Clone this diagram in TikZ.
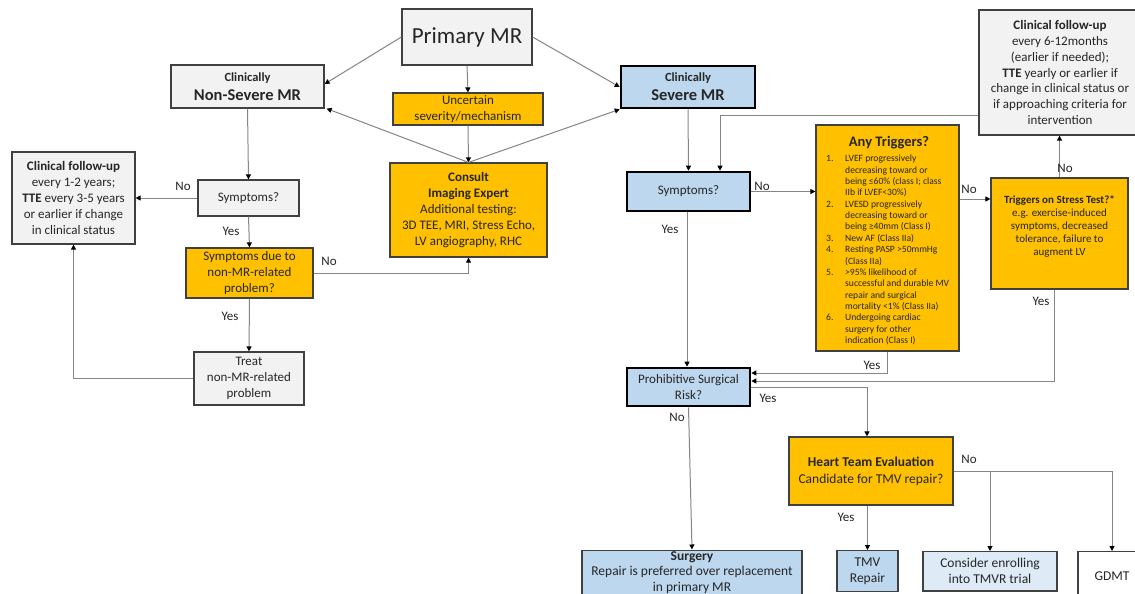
\documentclass[tikz,border=0pt]{standalone}
\usepackage{fontspec}
\setmainfont{Carlito}
\usetikzlibrary{arrows.meta,calc}
\definecolor{boxgray}{HTML}{F2F2F2}
\definecolor{orng}{HTML}{FFC000}
\definecolor{bluebox}{HTML}{BDD7EE}
\definecolor{lightblue}{HTML}{DEEBF7}
\definecolor{edgec}{HTML}{404040}
\definecolor{connc}{HTML}{858585}
\definecolor{txt}{HTML}{262626}
\begin{document}
\begin{tikzpicture}[x=1pt,y=-1pt,
 box/.style={draw=edgec,line width=1.2pt,inner sep=1pt,align=center,text=txt,font=\fontsize{13}{16}\selectfont},
 graybox/.style={box,fill=boxgray},
 orbox/.style={box,fill=orng},
 bluethick/.style={box,fill=bluebox,draw=black,line width=2.6pt},
 conn/.style={draw=connc,line width=1pt,-{Triangle[length=5pt,width=5pt,color=black]}},
 lbl/.style={text=txt,font=\fontsize{13}{16}\selectfont,inner sep=0pt},
 txtnode/.style={text=txt,align=center,inner sep=0pt}]
\useasboundingbox (0,0) rectangle (1135,594);
\fill[white] (0,0) rectangle (1135,594);

% ---- nodes ----
\node[graybox,minimum width=130,minimum height=56,font=\fontsize{23}{27}\selectfont] (pmr) at (467,37) {Primary MR};
\node[graybox,minimum width=153,minimum height=43,font=\bfseries\fontsize{16.5}{19}\selectfont] (ns) at (247.5,86.5) {{\fontsize{12.5}{14}\selectfont Clinically}\\Non-Severe MR};
\node[orbox,minimum width=150,minimum height=32] (unc) at (468,109) {Uncertain\\severity/mechanism};
\node[orbox,minimum width=157,minimum height=94] (cons) at (468.5,210) {\textbf{Consult}\\\textbf{Imaging Expert}\\Additional testing:\\3D TEE, MRI, Stress Echo,\\LV angiography, RHC};
\node[bluethick,minimum width=134,minimum height=42,font=\bfseries\fontsize{16.5}{19}\selectfont] (sev) at (688,87) {{\fontsize{12.5}{14}\selectfont Clinically}\\Severe MR};
\node[graybox,minimum width=123,minimum height=92] (fl) at (73.5,198) {\textbf{Clinical follow-up}\\every 1-2 years;\\\textbf{TTE} every 3-5 years\\or earlier if change\\in clinical status};
\node[graybox,minimum width=101,minimum height=36] (sl) at (248.5,198) {Symptoms?};
\node[orbox,minimum width=127,minimum height=50] (sd) at (249.5,273) {Symptoms due to\\non-MR-related\\problem?};
\node[graybox,minimum width=110,minimum height=53] (tr) at (249,378.5) {Treat\\non-MR-related\\problem};
\node[bluethick,minimum width=123,minimum height=39] (sr) at (688.5,191.5) {Symptoms?};
\node[graybox,minimum width=162,minimum height=125,font=\fontsize{13}{15.7}\selectfont] (fr) at (1060,72.5) {\textbf{Clinical follow-up}\\every 6-12months\\(earlier if needed);\\\textbf{TTE} yearly or earlier if\\change in clinical status or\\if approaching criteria for\\intervention};
\node[orbox,minimum width=143,minimum height=226] (at) at (887.5,238) {};
\node[txtnode,font=\bfseries\fontsize{14.5}{16}\selectfont] (attitle) at (889,143) {Any Triggers?};
\node[txtnode,anchor=north west,align=left,font=\fontsize{9.6}{11.35}\selectfont] (atlist) at (826,155) {%
\makebox[19pt][l]{1.}LVEF progressively\\
\hspace*{19pt}decreasing toward or\\
\hspace*{19pt}being ≤60\%  (class I; class\\
\hspace*{19pt}IIb if LVEF<30\%)\\
\makebox[19pt][l]{2.}LVESD progressively\\
\hspace*{19pt}decreasing toward or\\
\hspace*{19pt}being ≥40mm (Class I)\\
\makebox[19pt][l]{3.}New AF (Class IIa)\\
\makebox[19pt][l]{4.}Resting PASP >50mmHg\\
\hspace*{19pt}(Class IIa)\\
\makebox[19pt][l]{5.}>95\% likelihood of\\
\hspace*{19pt}successful and durable MV\\
\hspace*{19pt}repair and surgical\\
\hspace*{19pt}mortality <1\% (Class IIa)\\
\makebox[19pt][l]{6.}Undergoing cardiac\\
\hspace*{19pt}surgery for other\\
\hspace*{19pt}indication (Class I)};
\node[orbox,minimum width=137,minimum height=111] (st) at (1059.5,233.5) {};
\node[txtnode,font=\fontsize{11}{13.2}\selectfont] (sttext) at (1059.5,226.5) {\textbf{Triggers on Stress Test?*}\\e.g. exercise-induced\\symptoms, decreased\\tolerance, failure to\\augment LV};
\node[bluethick,minimum width=123,minimum height=38] (pr) at (688.5,387) {Prohibitive Surgical\\Risk?};
\node[orbox,minimum width=164,minimum height=68,font=\fontsize{13.5}{17}\selectfont] (ht) at (871,471) {\textbf{Heart Team Evaluation}\\Candidate for TMV repair?};
\node[box,fill=bluebox,anchor=north,minimum width=220,inner ysep=1.5,font=\fontsize{13.5}{15.5}\selectfont] (su) at (692,549.5) {\textbf{Surgery}\\Repair is preferred over replacement\\in primary MR};
\node[box,fill=bluebox,anchor=north,minimum width=61,inner ysep=7,font=\fontsize{13.5}{16}\selectfont] (tmv) at (867.5,550) {TMV\\Repair};
\node[box,fill=lightblue,anchor=north,minimum width=134,inner ysep=7,font=\fontsize{13.5}{16}\selectfont] (co) at (990,551) {Consider enrolling\\into TMVR trial};
\node[box,fill=white,anchor=north,minimum width=68,minimum height=50,font=\fontsize{13.5}{16}\selectfont] (gd) at (1112,551) {GDMT};

% ---- connectors ----
\draw[conn] (pmr.west) -- ([yshift=2.5]ns.east);
\draw[conn] (pmr.south) -- (unc.north);
\draw[conn] (pmr.east) -- (sev.west);
\draw[conn] (unc.south) -- (cons.north);
\draw[conn] (cons.north) -- ([xshift=2]ns.south east);
\draw[conn] (cons.north) -- (sev.south west);
\draw[conn] (ns.south) -- (sl.north);
\draw[conn] (sl.west) -- (fl.east);
\draw[conn] (sl.south) -- (sd.north);
\draw[conn] (sd.east) -| (cons.south);
\draw[conn] (sd.south) -- (tr.north);
\draw[conn] (tr.west) -| (fl.south);
\draw[conn] (sev.south) -- (sr.north);
\coordinate (frin) at ($(fr.west)+(0,42.5)$);
\draw[conn] (frin) -| ([xshift=31.5]sr.north);
\draw[conn] (sr.east) -- (sr.east -| at.west);
\draw[conn] ([yshift=39]at.east) -- ([yshift=39]at.east -| st.west);
\draw[conn] (st.north) -- (st.north |- fr.south);
\draw[conn] ([xshift=-1.5]sr.south) -- ([xshift=-1.5]pr.north);
\draw[conn] (at.south) |- ([yshift=14]pr.east);
\draw[conn] ([xshift=-5.5]st.south) |- ([yshift=6]pr.east);
\draw[conn] (pr.east) -| ([xshift=-0.5]tmv.north |- ht.north);
\draw[conn] (pr.south) -- (su.north);
\draw[conn] (ht.south -| tmv.north) -- (tmv.north);
\draw[conn] (ht.east) -| (co.north);
\draw[conn] (ht.east) -| (gd.north);

% ---- labels ----
\node[lbl] (l1) at (183,186) {No};
\node[lbl] (l2) at (231,231) {Yes};
\node[lbl] (l3) at (329,261) {No};
\node[lbl] (l4) at (230,316) {Yes};
\node[lbl] (l5) at (762,186) {No};
\node[lbl] (l6) at (670,229) {Yes};
\node[lbl] (l7) at (969,189) {No};
\node[lbl] (l8) at (1065,168) {No};
\node[lbl] (l9) at (1041,301) {Yes};
\node[lbl] (l10) at (872,365) {Yes};
\node[lbl] (l11) at (768,398) {Yes};
\node[lbl] (l12) at (677,417) {No};
\node[lbl] (l13) at (846,517) {Yes};
\node[lbl] (l14) at (969,459) {No};
\end{tikzpicture}
\end{document}
